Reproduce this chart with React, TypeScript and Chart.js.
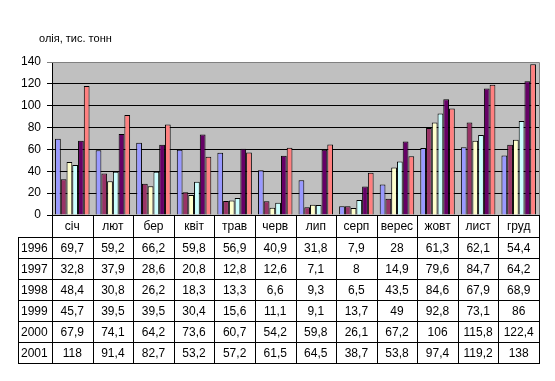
import React, { useEffect, useRef } from "react";
import { Chart, registerables } from "chart.js";

Chart.register(...registerables);

const categories = ["січ", "лют", "бер", "квіт", "трав", "черв", "лип", "серп", "верес", "жовт", "лист", "груд"];
const years = ["1996", "1997", "1998", "1999", "2000", "2001"];
const v1996 = [69.7, 59.2, 66.2, 59.8, 56.9, 40.9, 31.8, 7.9, 28, 61.3, 62.1, 54.4];
const v1997 = [32.8, 37.9, 28.6, 20.8, 12.8, 12.6, 7.1, 8, 14.9, 79.6, 84.7, 64.2];
const v1998 = [48.4, 30.8, 26.2, 18.3, 13.3, 6.6, 9.3, 6.5, 43.5, 84.6, 67.9, 68.9];
const v1999 = [45.7, 39.5, 39.5, 30.4, 15.6, 11.1, 9.1, 13.7, 49, 92.8, 73.1, 86];
const v2000 = [67.9, 74.1, 64.2, 73.6, 60.7, 54.2, 59.8, 26.1, 67.2, 106, 115.8, 122.4];
const v2001 = [118, 91.4, 82.7, 53.2, 57.2, 61.5, 64.5, 38.7, 53.8, 97.4, 119.2, 138];
const seriesValues = [v1996, v1997, v1998, v1999, v2000, v2001];
const seriesColors = ["#9999FF", "#993366", "#FFFFCC", "#CCFFFF", "#660066", "#FF8080"];
const titleText = "олія, тис. тонн";
const yMin = 0;
const yMax = 140;
const yStep = 20;

const FONT = '"Liberation Sans", Arial, sans-serif';

const fmt = (v: number) => String(v).replace(".", ",");

const excelPlugin = {
  id: "excelTable",
  beforeDraw(chart: any) {
    const { ctx, chartArea: a } = chart;
    ctx.save();
    ctx.fillStyle = "#C0C0C0";
    ctx.fillRect(a.left, a.top, a.right - a.left, a.bottom - a.top);
    ctx.restore();
  },
  afterDraw(chart: any) {
    const { ctx, chartArea: a } = chart;
    const xs = chart.scales.x;
    const n = categories.length;
    const left = Math.round(a.left);
    const right = Math.round(a.right);
    const colW = (right - left) / n;
    const catTop = Math.round(a.bottom);
    const catBottom = catTop + 22;
    const rowH = 21;
    const tableLeft = 18;
    const tableBottom = catBottom + rowH * years.length;

    ctx.save();
    ctx.strokeStyle = "#808080";
    ctx.lineWidth = 1;
    ctx.beginPath();
    ctx.moveTo(left, Math.round(a.top) + 0.5);
    ctx.lineTo(right + 0.5, Math.round(a.top) + 0.5);
    ctx.lineTo(right + 0.5, catTop);
    ctx.stroke();

    ctx.strokeStyle = "#000";
    ctx.beginPath();
    for (let k = 0; k <= n; k++) {
      const x = Math.round(left + k * colW) + 0.5;
      ctx.moveTo(x, catTop);
      ctx.lineTo(x, tableBottom + 0.5);
    }
    ctx.moveTo(tableLeft + 0.5, catBottom);
    ctx.lineTo(tableLeft + 0.5, tableBottom + 0.5);
    for (let r = 0; r <= years.length; r++) {
      const y = catBottom + r * rowH + 0.5;
      ctx.moveTo(tableLeft, y);
      ctx.lineTo(right + 1, y);
    }
    ctx.stroke();

    ctx.fillStyle = "#000";
    ctx.font = `12px ${FONT}`;
    ctx.textBaseline = "middle";
    ctx.textAlign = "center";
    categories.forEach((c, i) => {
      const cx = xs.getPixelForValue(i);
      ctx.fillText(c, cx, (catTop + catBottom) / 2 + 1);
    });
    years.forEach((yr, r) => {
      const cy = catBottom + r * rowH + rowH / 2 + 1;
      ctx.textAlign = "left";
      ctx.fillText(yr, tableLeft + 3, cy);
      ctx.textAlign = "center";
      seriesValues[r].forEach((v, i) => {
        ctx.fillText(fmt(v), xs.getPixelForValue(i), cy);
      });
    });

    ctx.font = `11px ${FONT}`;
    ctx.textAlign = "left";
    ctx.fillText(titleText, 39, 39);
    ctx.restore();
  },
};

export default function App() {
  const ref = useRef<HTMLCanvasElement | null>(null);
  useEffect(() => {
    if (!ref.current) return;
    const chart = new Chart(ref.current, {
      type: "bar",
      data: {
        labels: categories,
        datasets: years.map((y, i) => ({
          label: y,
          data: seriesValues[i],
          backgroundColor: seriesColors[i],
          borderColor: "#000",
          borderWidth: 1,
          categoryPercentage: 0.85,
          barPercentage: 1.0,
        })),
      },
      options: {
        animation: false,
        responsive: false,
        devicePixelRatio: 1,
        layout: { padding: { top: 62, right: 16, bottom: 166, left: 0 } },
        plugins: { legend: { display: false }, tooltip: { enabled: false } },
        scales: {
          x: { display: false },
          y: {
            min: yMin,
            max: yMax,
            ticks: {
              stepSize: yStep,
              color: "#000",
              padding: 6,
              font: { family: FONT, size: 12 },
            },
            grid: {
              color: (c: any) => (c.tick && c.tick.value === yMax ? "#808080" : "#000"),
              tickLength: 5,
              lineWidth: 1,
            },
            border: { color: "#000" },
            afterFit: (scale: any) => {
              scale.width = 52;
            },
          },
        },
      },
      plugins: [excelPlugin],
    });
    return () => chart.destroy();
  }, []);
  return (
    <div style={{ position: "fixed", left: 0, top: 0, width: 555, height: 381, background: "#fff" }}>
      <canvas ref={ref} width={555} height={381} />
    </div>
  );
}
